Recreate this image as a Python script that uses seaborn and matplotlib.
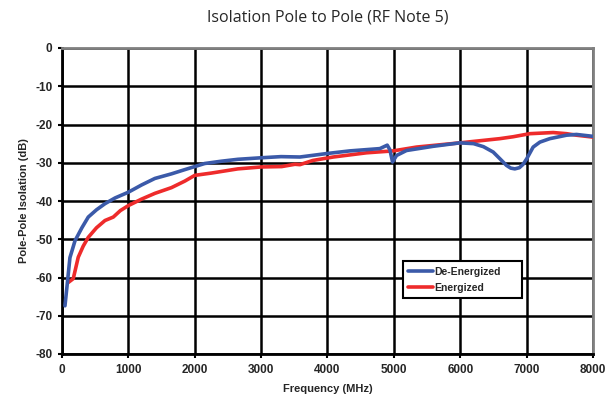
import matplotlib
matplotlib.use("Agg")
import matplotlib.pyplot as plt
import seaborn as sns
import pandas as pd
from matplotlib.lines import Line2D

# Data
deen_freq = [45, 80, 120, 160, 196, 300, 396, 520, 648, 800, 1000, 1200, 1400, 1650, 1850, 2000, 2150,
             2400, 2650, 3000, 3300, 3584, 3986, 4337, 4789, 4900, 4940, 4980, 5040, 5190, 5592, 5994,
             6200, 6350, 6496, 6600, 6697, 6760, 6822, 6890, 6947, 7000, 7098, 7200, 7349, 7600,
             7751, 8000]
deen_db = [-67.4, -61.6, -54.8, -52.5, -50.4, -47.0, -44.2, -42.3, -40.7, -39.2, -37.7, -35.8, -34.1, -32.9,
           -31.8, -31.0, -30.2, -29.6, -29.1, -28.7, -28.4, -28.5, -27.6, -26.9, -26.3, -25.4, -26.6,
           -29.8, -28.1, -26.8, -25.7, -24.8, -25.0, -25.8, -27.2, -29.0, -30.7, -31.4, -31.6, -31.3,
           -30.4, -29.0, -25.9, -24.6, -23.7, -22.8, -22.6, -23.1]

en_freq = [95, 170, 245, 320, 396, 520, 648, 773, 880, 1000, 1200, 1400, 1650, 1850, 2000, 2250, 2650,
           3000, 3310, 3510, 3584, 3780, 4086, 4588, 4990, 5341, 5994, 6596, 6797, 7048, 7400, 7600,
           7751, 8000]
en_db = [-61.3, -60.3, -54.7, -51.8, -49.5, -47.0, -45.1, -44.2, -42.5, -41.2, -39.5, -38.0, -36.5, -34.8,
         -33.3, -32.7, -31.6, -31.1, -31.0, -30.4, -30.5, -29.4, -28.5, -27.4, -26.9, -25.9, -24.8, -23.7,
         -23.2, -22.4, -22.1, -22.4, -22.8, -23.3]

series_names = ["De-Energized", "Energized"]
x_ticks = [0, 1000, 2000, 3000, 4000, 5000, 6000, 7000, 8000]
y_ticks = [0, -10, -20, -30, -40, -50, -60, -70, -80]

df = pd.concat([
    pd.DataFrame({"freq": deen_freq, "db": deen_db, "series": series_names[0]}),
    pd.DataFrame({"freq": en_freq, "db": en_db, "series": series_names[1]}),
], ignore_index=True)

sns.set_theme(style="white")
plt.rcParams['font.family'] = ['Liberation Sans', 'DejaVu Sans']
plt.rcParams['axes.unicode_minus'] = False

colors = {"De-Energized": "#3b5aa9", "Energized": "#ee2b2b"}

fig = plt.figure(figsize=(6.13, 4.0), dpi=100)
ax = fig.add_axes([0.1011, 0.115, 0.8663, 0.765])

ax.set_xlim(0, 8000)
ax.set_ylim(-80, 0)
ax.set_xticks(x_ticks)
ax.set_yticks(y_ticks)
ax.grid(True, color="black", linewidth=1.8, zorder=0)
ax.set_axisbelow(True)

sns.lineplot(data=df[df.series == "Energized"], x="freq", y="db", color=colors["Energized"],
             linewidth=2.6, ax=ax, legend=False, sort=False, zorder=3)
sns.lineplot(data=df[df.series == "De-Energized"], x="freq", y="db", color=colors["De-Energized"],
             linewidth=2.6, ax=ax, legend=False, sort=False, zorder=4)

for s in ["left", "bottom"]:
    ax.spines[s].set_color("black")
    ax.spines[s].set_linewidth(2.0)
for s in ["top", "right"]:
    ax.spines[s].set_color("#808080")
    ax.spines[s].set_linewidth(2.0)

ax.tick_params(axis="both", which="both", direction="out", length=3, width=1.5, color="black",
               labelsize=8.5, pad=4, left=True, bottom=True)
for lab in ax.get_xticklabels() + ax.get_yticklabels():
    lab.set_fontweight("bold")

ax.set_xlabel("Frequency (MHz)", fontsize=8, fontweight="bold", labelpad=6)
ax.set_ylabel("Pole-Pole Isolation (dB)", fontsize=8, fontweight="bold", labelpad=4)

fig.suptitle("Isolation Pole to Pole (RF Note 5)", x=0.535, y=0.975, fontsize=11.5,
             fontweight="normal", family=["Open Sans", "DejaVu Sans"])

handles = [Line2D([0], [0], color=colors[n], linewidth=2.6) for n in series_names]
leg = ax.legend(handles, series_names, loc="lower left", bbox_to_anchor=(0.642, 0.183, 0.224, 0.124),
                mode="expand", fontsize=7.5, frameon=True, fancybox=False, framealpha=1,
                edgecolor="black", handlelength=2.4, handletextpad=0.1, borderpad=0.5,
                labelspacing=0.6, borderaxespad=0)
leg.get_frame().set_linewidth(1.5)
for t in leg.get_texts():
    t.set_fontweight("bold")

fig.savefig("out.png", dpi=100)
